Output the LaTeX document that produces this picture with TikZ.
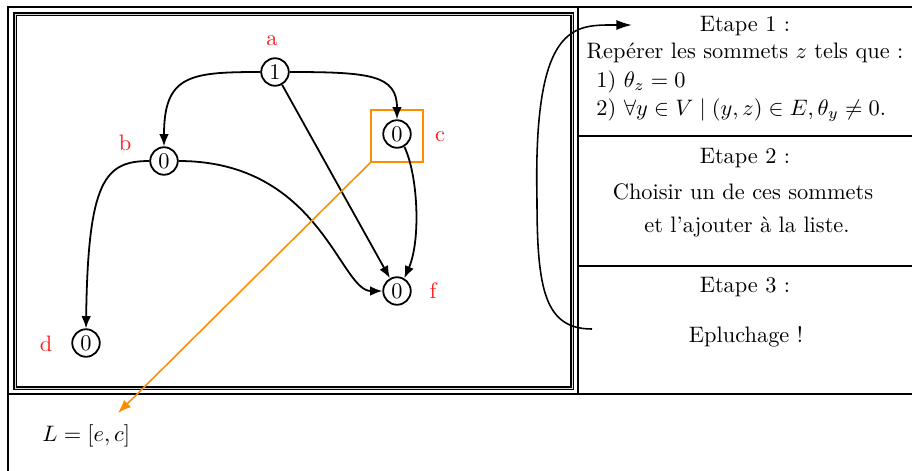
\documentclass[tikz,border=0pt]{standalone}
\usepackage{fontspec}
\usetikzlibrary{arrows.meta}
\definecolor{myorange}{RGB}{255,140,0}
\definecolor{myred}{RGB}{255,30,30}
\begin{document}
\begin{tikzpicture}[x=0.447pt,y=0.447pt,
  vtx/.style={circle,draw,line width=0.8pt,minimum size=12.3pt,inner sep=0pt},
  lab/.style={text=myred,anchor=base,inner sep=0pt},
  edge/.style={line width=0.8pt,-{Latex[length=5.5pt,width=4.3pt]}},
  frame/.style={line width=1pt},
  txt/.style={anchor=base,inner sep=0pt},
  obox/.style={draw=myorange,line width=0.7pt,minimum size=23.2pt,inner sep=0pt},
  oline/.style={draw=myorange,line width=0.7pt,-{Latex[length=6pt,width=4.5pt]}},
  bigarrow/.style={line width=0.7pt,-{Latex[length=7pt,width=4.5pt]}}]
\useasboundingbox (0,0) rectangle (912,-470);
\clip (0,0) rectangle (912,-470);
% frames
\draw[frame] (8,-7) rectangle (940,-500);
\draw[line width=0.55pt,double=gray!30,double distance=0.35pt] (15,-14) rectangle (572,-388);
\draw[frame] (578,-7) -- (578,-394);
\draw[frame] (8,-394) -- (940,-394);
\draw[frame] (578,-136) -- (940,-136);
\draw[frame] (578,-266) -- (940,-266);
% graph nodes
\node[vtx] (a) at (275,-72) {1};
\node[vtx] (b) at (164,-161) {0};
\node[vtx] (c) at (397,-134) {0};
\node[vtx] (f) at (397,-291) {0};
\node[vtx] (d) at (86,-343) {0};
\node[lab] (la) at (272,-45) {a};
\node[lab] (lb) at (125,-150) {b};
\node[lab] (lc) at (440,-141) {c};
\node[lab] (lf) at (433,-298) {f};
\node[lab] (ld) at (46,-351) {d};
\node[obox] (cbox) at (397,-136) {};
% edges
\draw[edge] (a.west) .. controls (190,-72) and (164,-75) .. (b.north);
\draw[edge] (a.east) .. controls (370,-72) and (397,-75) .. (c.north);
\draw[edge] (a) -- (f);
\draw[edge] (c.-60) .. controls (418,-175) and (421,-240) .. (f.60);
\draw[edge] (b.west) .. controls (105,-161) and (88,-180) .. (d.north);
\draw[edge] (b.east) .. controls (320,-161) and (340,-291) .. (f.west);
% right column texts
\node[txt] (t1) at (745,-31) {Etape 1 :};
\node[txt] (t1a) at (745,-58) {Repérer les sommets $z$ tels que :};
\node[txt,anchor=base west] (t1b) at (596,-87) {1) $\theta_z = 0$};
\node[txt,anchor=base west] (t1c) at (596,-115) {2) $\forall y \in V \mid (y,z) \in E, \theta_y \neq 0$.};
\node[txt] (t2) at (745,-163) {Etape 2 :};
\node[txt] (t2a) at (743,-199) {Choisir un de ces sommets};
\node[txt] (t2b) at (747,-232) {et l'ajouter à la liste.};
\node[txt] (t3) at (745,-292) {Etape 3 :};
\node[txt] (t3a) at (746,-342) {Epluchage !};
% list
\node[txt,anchor=base west] (L) at (42,-441) {$L = [e,c]$};
% orange arrow
\coordinate (Ltip) at (118,-413);
\draw[oline] (cbox.south west) -- (Ltip);
% big loop arrow
\coordinate (s3) at (592,-329);
\coordinate (e1) at (632,-25);
\draw[bigarrow] (s3) .. controls (545,-329) and (537,-290) .. (537,-200)
  .. controls (533,-20) and (575,-25) .. (e1);
\end{tikzpicture}
\end{document}
